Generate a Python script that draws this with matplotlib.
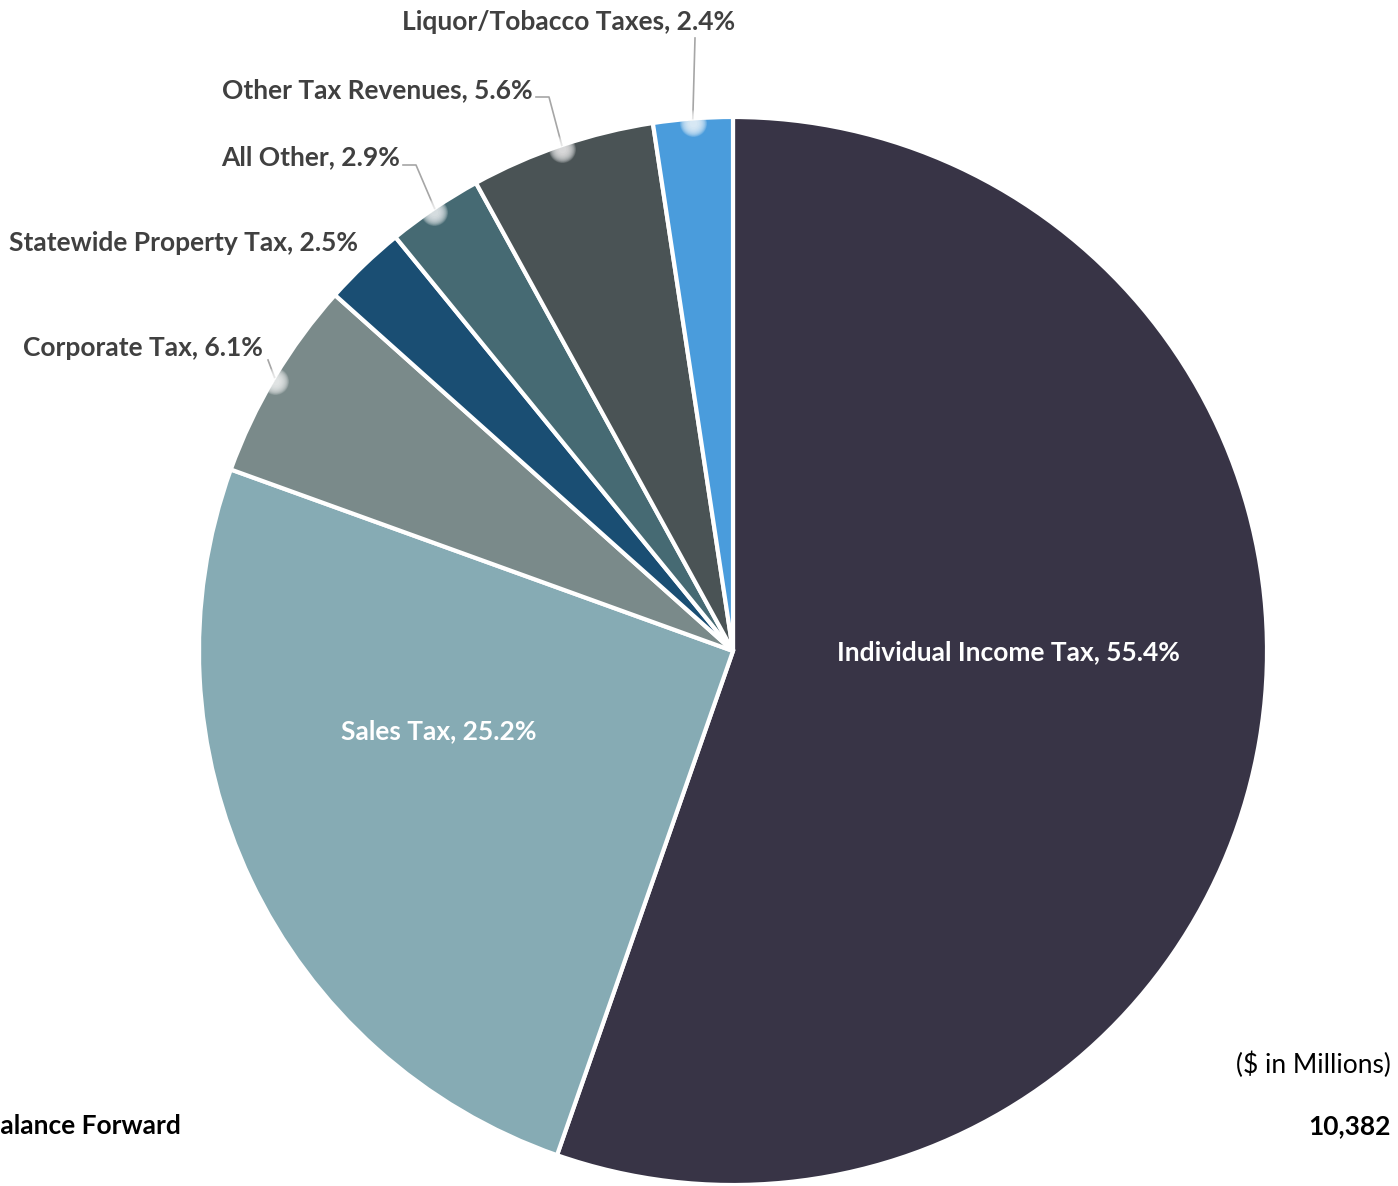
import numpy as np
import matplotlib
matplotlib.use("Agg")
import matplotlib.pyplot as plt

plt.rcParams['font.family'] = ['Lato', 'DejaVu Sans']

# Revenue shares (percent), clockwise from 12 o'clock
labels = ["Individual Income Tax", "Sales Tax", "Corporate Tax",
          "Statewide Property Tax", "All Other", "Other Tax Revenues",
          "Liquor/Tobacco Taxes"]
shares = [55.4, 25.2, 6.1, 2.5, 2.9, 5.6, 2.4]
colors = ["#383446", "#86ABB4", "#7A8A8A", "#1A4E73", "#466A73", "#4A5355", "#4A9CDC"]
balance_forward = "10,382"

W, H = 1398, 1186
fig = plt.figure(figsize=(W / 100, H / 100), dpi=100)
ax = fig.add_axes([0, 0, 1, 1])

cx, cy, R = 733, H - 651, 534
wedges, _ = ax.pie(shares, colors=colors, startangle=90, counterclock=False,
                   center=(cx, cy), radius=R, normalize=True,
                   wedgeprops=dict(edgecolor="white", linewidth=3))
ax.set_xlim(0, W)
ax.set_ylim(0, H)
ax.set_aspect("equal")
ax.axis("off")

txt_col = "#404040"
line_col = "#A6A6A6"
fs = 19


def edge_point(w):
    ang = np.deg2rad((w.theta1 + w.theta2) / 2)
    return cx + R * np.cos(ang), cy + R * np.sin(ang)


def lab(i):
    return f"{labels[i]}, {shares[i]}%"


# labels inside the two big slices
ax.text(1008, H - 652, lab(0), color="white", fontsize=fs, fontweight="bold",
        ha="center", va="center")
ax.text(439, H - 731, lab(1), color="white", fontsize=fs, fontweight="bold",
        ha="center", va="center")

# outside labels: (index, text right x, text y, connector points before the slice edge)
outside = [
    (6, 735, 22, [(695, 38)]),
    (5, 533, 90, [(536, 97), (549, 97)]),
    (4, 400, 157, [(403, 165), (416, 165)]),
    (3, 358, 243, []),
    (2, 263, 348, [(268, 360)]),
]
for i, tx, ty, path in outside:
    ax.text(tx, H - ty, lab(i), color=txt_col, fontsize=fs, fontweight="bold",
            ha="right", va="center")
    if path:
        px, py = edge_point(wedges[i])
        xs = [p[0] for p in path] + [px]
        ys = [H - p[1] for p in path] + [py]
        ax.plot(xs, ys, color=line_col, lw=1.2, zorder=5)
        # soft white glow where the leader meets the slice
        for s in np.linspace(380, 30, 12):
            ax.scatter([px], [py - 4], s=s, color="white", alpha=0.12, zorder=6,
                       linewidths=0)

# side notes (left one is cut by the image edge, as in the original)
ax.text(181, H - 1126, "Balance Forward", color="black", fontsize=fs,
        fontweight="bold", ha="right", va="center")
ax.text(1391, H - 1065, "($ in Millions)", color="black", fontsize=fs,
        ha="right", va="center")
ax.text(1391, H - 1126, balance_forward, color="black", fontsize=fs,
        fontweight="bold", ha="right", va="center")

fig.savefig("out.png", dpi=100)
